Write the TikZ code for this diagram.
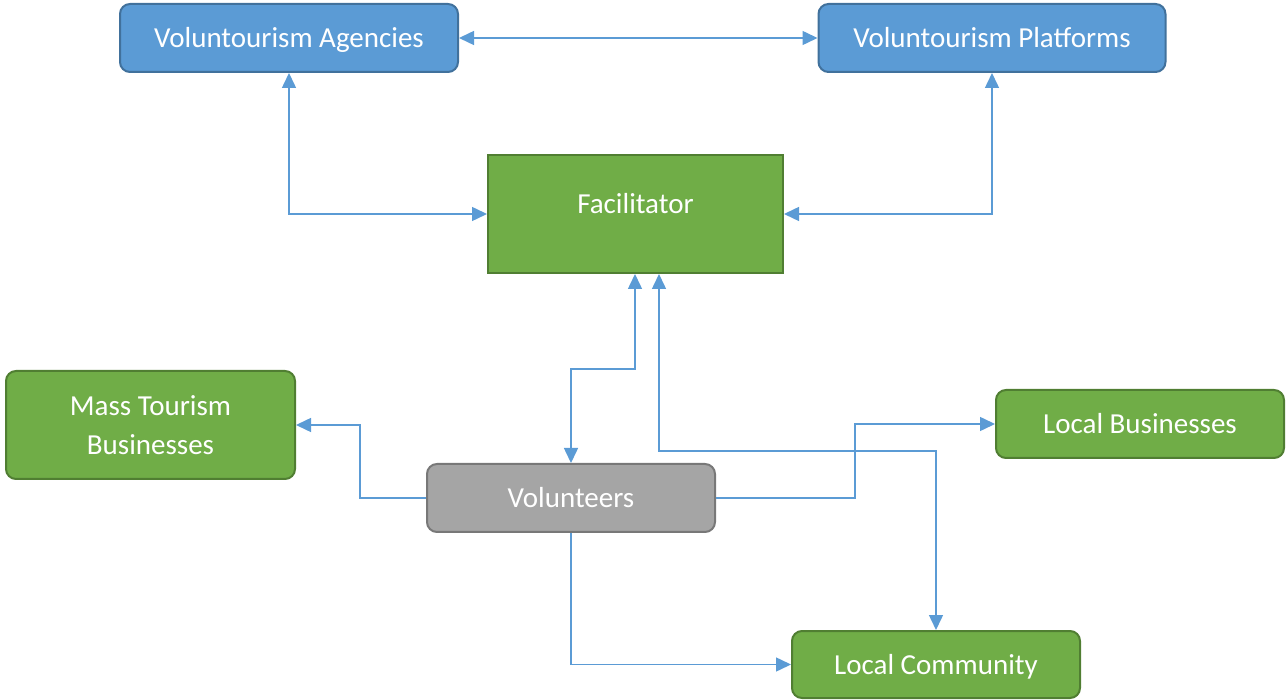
\documentclass[tikz,border=0pt]{standalone}
\usepackage{fontspec}
\setmainfont{Carlito}
\usetikzlibrary{arrows.meta}
\definecolor{bluefill}{HTML}{5B9BD5}
\definecolor{blueline}{HTML}{41719C}
\definecolor{greenfill}{HTML}{70AD47}
\definecolor{greenline}{HTML}{507E32}
\definecolor{grayfill}{HTML}{A5A5A5}
\definecolor{grayline}{HTML}{787878}
\definecolor{wire}{HTML}{5B9BD5}
\begin{document}
\begin{tikzpicture}[x=1pt,y=-1pt,
  boxfont/.style={font=\fontsize{29}{39}\selectfont},
  box/.style={draw, line width=2pt, rounded corners=10pt, text=white, align=center,
    boxfont, inner sep=0pt, text height=26.6pt, text depth=7.4pt},
  bluebox/.style={box, fill=bluefill, draw=blueline},
  greenbox/.style={box, fill=greenfill, draw=greenline},
  graybox/.style={box, fill=grayfill, draw=grayline},
  link/.style={draw=wire, line width=1.5pt},
  tip/.style={-{Triangle[length=15pt,width=14pt]}},
  tips/.style={{Triangle[length=15pt,width=14pt]}-{Triangle[length=15pt,width=14pt]}}]
\useasboundingbox (0,0) rectangle (1286,700);

% boxes
\node[bluebox, minimum width=338pt, minimum height=68pt] (ag) at (289,38) {Voluntourism Agencies};
\node[bluebox, minimum width=347pt, minimum height=68pt] (pl) at (992,38) {Voluntourism Platforms};
\node[greenbox, rounded corners=0pt, minimum width=295pt, minimum height=118pt,
  label={[text=white, boxfont, text height=26.6pt, text depth=7.4pt, inner sep=0pt, yshift=10pt]center:Facilitator}] (fac) at (635.5,214) {};
\node[greenbox, minimum width=289pt, minimum height=108pt, text height=59pt, text depth=0pt] (mt) at (150.5,425) {Mass Tourism\\Businesses};
\node[graybox, minimum width=288pt, minimum height=68pt] (vol) at (571,498) {Volunteers};
\node[greenbox, minimum width=288pt, minimum height=68pt] (lb) at (1140,424) {Local Businesses};
\node[greenbox, minimum width=288pt, minimum height=67pt] (lc) at (936,664.5) {Local Community};

% bend points
\coordinate (f1) at ([xshift=-0.5pt]fac.south);
\coordinate (f2) at ([xshift=23.5pt]fac.south);
\coordinate (m1) at (635,369);
\coordinate (m2) at (659,451);
\coordinate (ml) at (360,498);
\coordinate (mr) at (855,498);

% connectors
\draw[link, tips] (ag.east) -- (pl.west);
\draw[link, tips] (ag.south) |- (fac.west);
\draw[link, tips] (pl.south) |- (fac.east);
\draw[link, tips] (f1) -- (m1) -| (vol.north);
\draw[link, tips] (f2) -- (m2) -| (lc.north);
\draw[link, tip] (vol.west) -- (ml) |- (mt.east);
\draw[link, tip] (vol.east) -- (mr) |- (lb.west);
\draw[link, tip] (vol.south) |- (lc.west);
\end{tikzpicture}
\end{document}
